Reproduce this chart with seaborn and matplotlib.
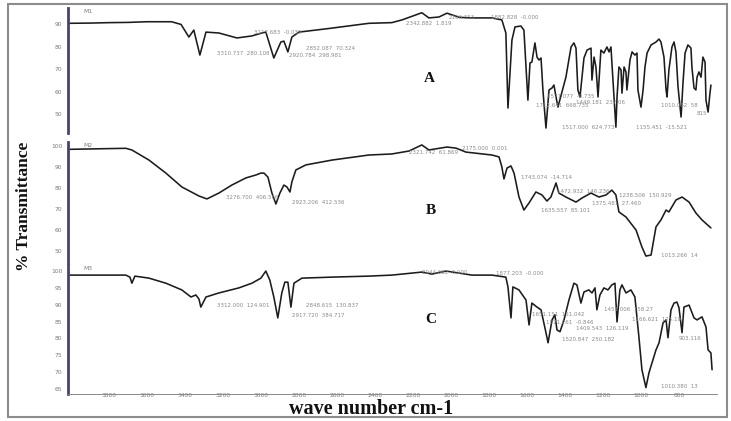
import matplotlib
matplotlib.use("Agg")
import matplotlib.pyplot as plt
import pandas as pd
import seaborn as sns
from matplotlib.patches import Rectangle

sns.set_style("white")
plt.rcParams["font.family"] = ["DejaVu Sans"]

# ---- FTIR spectra (wavenumber cm-1, % transmittance) ----
wn_a = [4015, 3900, 3800, 3700, 3600, 3470, 3420, 3379, 3353, 3321,
        3289, 3221, 3126, 3047, 2995, 2974, 2932, 2895, 2879, 2858,
        2837, 2800, 2642, 2432, 2311, 2258, 2153, 2116, 2063, 2021,
        1958, 1905, 1784, 1732, 1711, 1700, 1679, 1663, 1632, 1616,
        1605, 1595, 1584, 1574, 1558, 1547, 1537, 1526, 1516, 1500,
        1484, 1468, 1458, 1447, 1437, 1395, 1368, 1353, 1342, 1332,
        1321, 1300, 1284, 1263, 1258, 1247, 1237, 1226, 1211, 1195,
        1179, 1168, 1158, 1153, 1142, 1132, 1126, 1116, 1105, 1100,
        1089, 1079, 1074, 1058, 1047, 1032, 1021, 1016, 1000, 989,
        979, 968, 947, 921, 905, 895, 879, 868, 863, 853,
        837, 826, 816, 805, 789, 779, 768, 753, 737, 732,
        721, 711, 705, 695, 684, 674, 663, 658, 647, 637,
        632]
tr_a = [90.3, 90.4, 90.6, 90.7, 91.0, 91.0, 89.8, 84.2, 87.3, 76.2,
        86.4, 86.0, 83.8, 84.7, 86.0, 86.4, 74.9, 82.0, 82.4, 77.6,
        84.2, 86.4, 88.0, 90.3, 90.6, 91.8, 95.0, 92.7, 93.1, 94.8,
        93.0, 92.7, 92.7, 91.8, 86.0, 52.7, 82.9, 88.7, 89.1, 87.3,
        70.9, 56.2, 72.7, 73.1, 81.6, 75.3, 74.0, 74.9, 60.7, 43.8,
        60.7, 61.6, 62.9, 57.6, 53.1, 66.4, 79.8, 81.6, 79.3, 60.7,
        57.6, 74.9, 78.4, 79.3, 65.1, 75.3, 70.9, 57.6, 78.4, 77.1,
        79.8, 77.6, 79.8, 72.7, 57.6, 44.2, 57.6, 70.9, 69.6, 59.3,
        70.9, 68.7, 60.7, 74.0, 77.6, 76.2, 77.1, 60.7, 53.1, 60.7,
        70.9, 77.1, 80.7, 82.0, 83.3, 82.0, 75.3, 60.7, 57.6, 69.6,
        79.8, 82.0, 77.6, 62.0, 48.7, 63.8, 77.1, 80.7, 79.3, 70.9,
        61.6, 60.7, 66.4, 68.7, 66.4, 75.3, 73.1, 56.2, 50.9, 59.3,
        62.9]

wn_b = [4015, 3711, 3679, 3589, 3500, 3416, 3326, 3284, 3221, 3153,
        3079, 3026, 3000, 2984, 2963, 2942, 2921, 2900, 2879, 2863,
        2847, 2837, 2816, 2763, 2626, 2432, 2311, 2221, 2153, 2116,
        2021, 1974, 1921, 1784, 1747, 1732, 1721, 1705, 1684, 1668,
        1642, 1616, 1589, 1553, 1521, 1495, 1474, 1447, 1432, 1395,
        1342, 1311, 1263, 1221, 1184, 1153, 1132, 1116, 1079, 1026,
        995, 974, 947, 921, 895, 868, 853, 816, 784, 747,
        711, 679, 632]
tr_b = [98.4, 98.9, 98.1, 93.3, 87.1, 80.5, 76.2, 74.8, 77.6, 81.4,
        84.8, 86.2, 87.1, 87.1, 85.2, 77.6, 72.4, 77.6, 81.4, 80.5,
        78.1, 82.9, 88.6, 91.0, 93.3, 95.7, 96.2, 97.6, 100.5, 98.1,
        99.5, 99.0, 97.1, 95.7, 94.8, 90.0, 84.3, 89.5, 90.5, 87.1,
        75.7, 69.5, 72.9, 78.1, 76.7, 73.8, 75.7, 82.4, 77.6, 75.7,
        73.3, 75.2, 77.6, 75.7, 76.7, 79.0, 76.7, 68.6, 66.2, 60.0,
        51.9, 47.6, 48.1, 61.5, 64.8, 69.5, 68.6, 74.3, 75.7, 73.3,
        68.1, 64.8, 61.0]

wn_c = [4015, 3711, 3689, 3679, 3663, 3589, 3500, 3416, 3368, 3342,
        3326, 3316, 3289, 3221, 3116, 3047, 3000, 2974, 2953, 2932,
        2911, 2890, 2874, 2858, 2842, 2826, 2784, 2626, 2432, 2311,
        2205, 2153, 2100, 2026, 1958, 1889, 1784, 1711, 1700, 1684,
        1674, 1642, 1605, 1589, 1574, 1547, 1526, 1500, 1489, 1468,
        1453, 1442, 1426, 1405, 1379, 1353, 1337, 1316, 1300, 1274,
        1258, 1242, 1232, 1216, 1195, 1174, 1153, 1137, 1126, 1111,
        1100, 1079, 1053, 1032, 1011, 995, 974, 958, 921, 905,
        884, 868, 858, 842, 826, 811, 800, 784, 774, 747,
        721, 705, 679, 658, 647, 632, 626]
tr_c = [98.8, 98.8, 98.2, 96.4, 98.5, 97.9, 96.4, 94.4, 92.3, 92.9,
        91.7, 89.3, 92.3, 93.5, 95.0, 96.4, 97.9, 100.0, 97.3, 92.3,
        86.1, 93.5, 96.7, 96.7, 89.3, 96.4, 97.9, 98.2, 98.5, 98.8,
        99.4, 99.7, 99.1, 100.0, 99.4, 98.8, 98.8, 98.2, 95.3, 86.1,
        95.3, 94.4, 91.4, 84.0, 90.5, 89.3, 88.5, 81.7, 78.7, 85.5,
        87.0, 82.5, 82.0, 85.5, 91.4, 96.4, 95.9, 90.5, 93.8, 94.4,
        93.5, 95.0, 88.5, 92.9, 95.0, 94.4, 95.9, 96.4, 84.9, 94.4,
        95.9, 93.5, 94.4, 92.3, 80.5, 70.7, 65.4, 69.8, 76.6, 78.7,
        84.6, 85.5, 80.2, 88.5, 90.5, 90.8, 89.1, 81.7, 89.3, 89.9,
        86.1, 85.5, 86.4, 83.4, 76.6, 75.7, 70.7]

yticks_a = [50, 60, 70, 80, 90]
yticks_b = [50, 60, 70, 80, 90, 100]
yticks_c = [65, 70, 75, 80, 85, 90, 95, 100]
xticks = list(range(3800, 799, -200))

# peak readouts printed by the instrument software: (text, wavenumber, %T)
peaks_a = [("3117.683  -0.039", 3037, 86.0), ("3310.737  280.108", 3232, 77.1),
           ("2852.087  70.324", 2763, 79.3), ("2920.784  298.981", 2853, 75.8),
           ("2342.882  1.819", 2237, 90.4), ("2106.353", 2011, 93.1),
           ("1882.828  -0.000", 1789, 93.1), ("1571.077  -0.735", 1495, 57.6),
           ("1712.641  668.735", 1553, 53.6), ("1449.181  237.06", 1342, 55.3),
           ("1517.000  624.773", 1416, 44.2), ("1155.451  -15.521", 1026, 44.2),
           ("1010.062  58", 895, 53.6), ("815", 705, 50.4)]
peaks_b = [("3276.700  406.566", 3184, 75.7), ("2923.206  412.536", 2837, 73.3),
           ("2321.742  61.869", 2221, 96.7), ("2175.000  0.001", 1942, 98.6),
           ("1743.074  -14.714", 1632, 84.8), ("1635.557  85.101", 1526, 69.5),
           ("1472.932  146.236", 1442, 78.5), ("1375.481  27.460", 1258, 72.4),
           ("1238.506  150.929", 1116, 76.2), ("1013.266  14", 895, 48.1)]
peaks_c = [("3312.000  124.901", 3232, 89.9), ("2848.615  130.837", 2763, 89.9),
           ("2917.720  384.717", 2837, 86.7), ("2044.682  0.000", 2153, 99.7),
           ("1877.203  -0.000", 1763, 99.4), ("1651.151  151.042", 1574, 87.0),
           ("1571.261  -0.846", 1500, 84.6), ("1409.543  126.119", 1342, 82.8),
           ("1520.847  250.182", 1416, 79.6), ("1451.006  158.27", 1195, 88.5),
           ("1166.621  125.19", 1047, 85.5), ("903.116", 800, 79.9),
           ("1010.380  13", 895, 65.7)]

W, H = 731, 421
fig = plt.figure(figsize=(W / 100, H / 100), dpi=100)
fig.patch.set_facecolor("white")

XLIM = (4015, 600)
AX_LEFT, AX_W = 68, 649

panels = [
    dict(letter="A", tag="M1", wn=wn_a, tr=tr_a, ylim=(41.6, 97.1), yticks=yticks_a,
         top=8, bottom=133, peaks=peaks_a, letter_pos=(2116, 66.0)),
    dict(letter="B", tag="M2", wn=wn_b, tr=tr_b, ylim=(44.3, 101.9), yticks=yticks_b,
         top=142, bottom=263, peaks=peaks_b, letter_pos=(2105, 69.5)),
    dict(letter="C", tag="M3", wn=wn_c, tr=tr_c, ylim=(63.5, 101.8), yticks=yticks_c,
         top=265, bottom=394, peaks=peaks_c, letter_pos=(2105, 85.5)),
]

spine_col = "#43437a"
tick_col = "#8a8a8a"
for i, p in enumerate(panels):
    ax = fig.add_axes([AX_LEFT / W, 1 - p["bottom"] / H, AX_W / W,
                       (p["bottom"] - p["top"]) / H])
    ax.set_facecolor("none")
    df = pd.DataFrame({"wavenumber": p["wn"], "transmittance": p["tr"]})
    sns.lineplot(data=df, x="wavenumber", y="transmittance", ax=ax,
                 color="#1c1c1c", linewidth=1.15, sort=False, estimator=None)
    ax.set_xlim(*XLIM)
    ax.set_ylim(*p["ylim"])
    ax.set_xlabel("")
    ax.set_ylabel("")
    ax.set_yticks(p["yticks"])
    ax.tick_params(axis="y", length=3, width=0.6, color=tick_col, labelsize=4.3,
                   labelcolor="#7a7a7a", pad=1)
    for s in ("top", "right"):
        ax.spines[s].set_visible(False)
    ax.spines["left"].set_color(spine_col)
    ax.spines["left"].set_linewidth(2.0)
    if i < 2:
        ax.spines["bottom"].set_visible(False)
        ax.set_xticks([])
    else:
        ax.spines["bottom"].set_color(tick_col)
        ax.spines["bottom"].set_linewidth(0.7)
        ax.set_xticks(xticks)
        ax.set_xticks([v for v in range(3950, 599, -50) if v % 200], minor=True)
        ax.tick_params(axis="x", which="major", length=0, pad=-0.5, labelsize=4.3,
                       labelcolor="#7a7a7a")
        ax.tick_params(axis="x", which="minor", length=2, width=0.6,
                       direction="inout", color=tick_col)
    ax.text(0.023, 0.99, p["tag"], transform=ax.transAxes, fontsize=4.3,
            color="#7a7a7a", va="top", ha="left")
    for txt, w, t in p["peaks"]:
        ax.text(w, t, txt, fontsize=4.0, color="#8a8a8a", ha="left", va="center")
    lx, ly = p["letter_pos"]
    ax.text(lx, ly, p["letter"], fontsize=11, fontweight="bold",
            family="Liberation Serif", color="#111111", ha="center", va="center")

fig.text(24 / W, 1 - 206 / H, "% Transmittance", rotation=90, fontsize=12.5,
         fontweight="bold", family="Liberation Serif", ha="center", va="center",
         color="#111111")
fig.text(371 / W, 1 - 414 / H, "wave number cm-1", fontsize=14.5,
         fontweight="bold", family="Liberation Serif", ha="center", va="baseline",
         color="#111111")

fig.add_artist(Rectangle((8 / W, 1 - 417 / H), 719 / W, 413 / H,
                         transform=fig.transFigure, fill=False,
                         edgecolor="#8c8c8c", linewidth=1.5))

fig.savefig("out.png", dpi=100, facecolor="white")
